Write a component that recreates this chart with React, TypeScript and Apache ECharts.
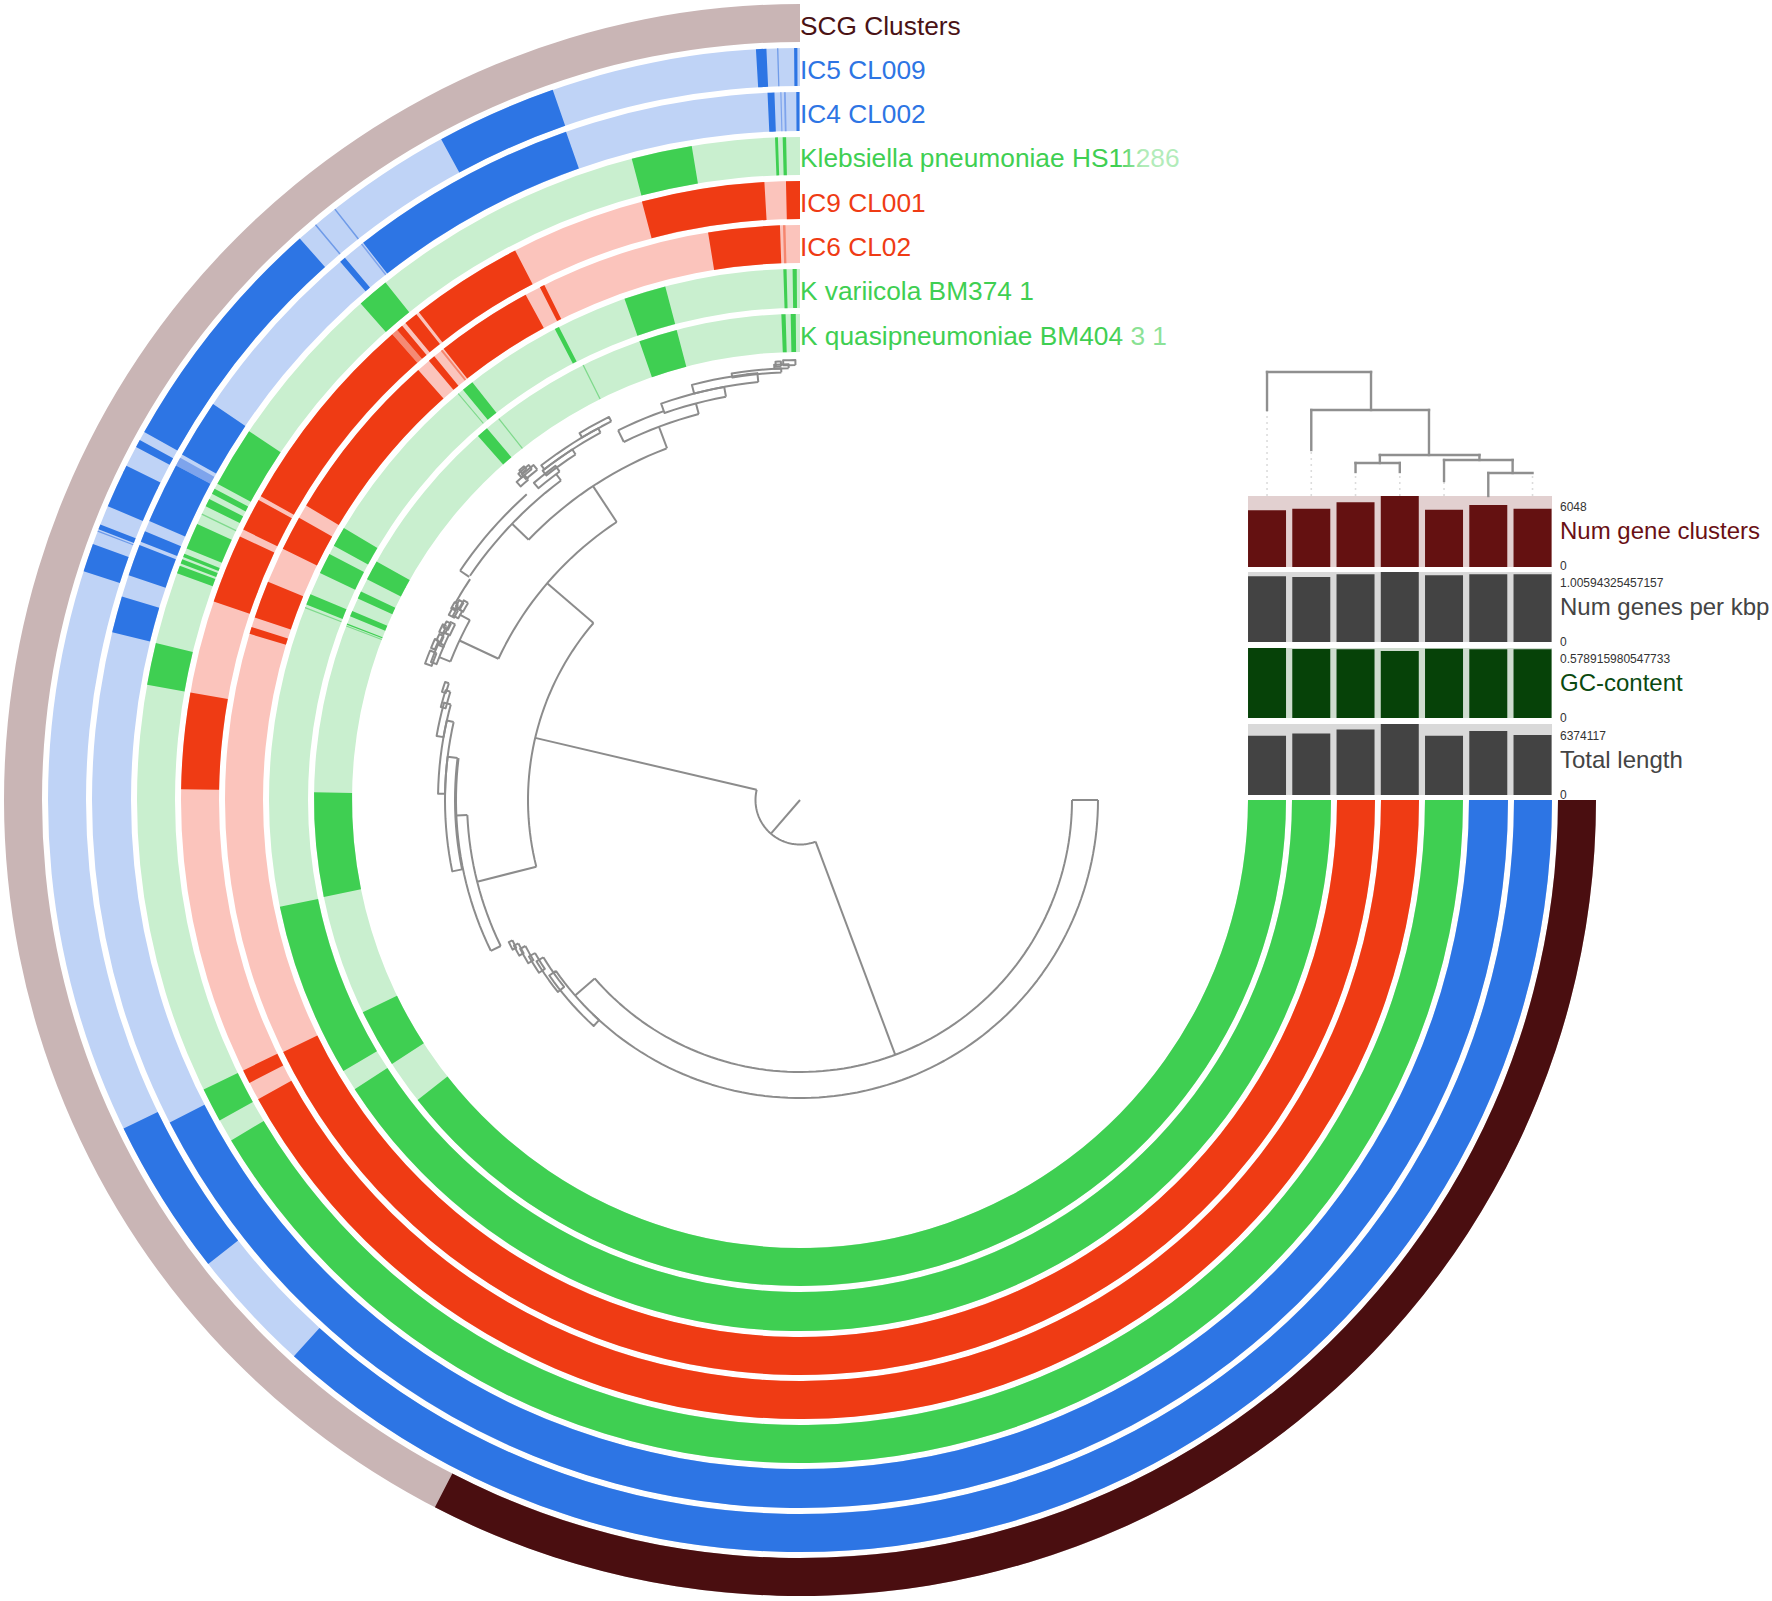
import React, { useEffect, useRef } from "react";
import * as echarts from "echarts";

// ---------- DATA ----------
// Rings are listed outer to inner. Angles in degrees, counter-clockwise from the top.
const ringNames = ["SCG Clusters", "IC5 CL009", "IC4 CL002", "Klebsiella pneumoniae HS11286", "IC9 CL001", "IC6 CL02", "K variicola BM374 1", "K quasipneumoniae BM404 3 1"];
const scgDark = [[152.7, 270]];
const scgFaint: number[][] = [];
const ic5Dark = [[0.2, 0.45], [2.56, 3.36], [19.2, 28.5], [41.7, 60.7], [61.4, 62.0], [63.6, 67.0], [68.5, 68.9], [70.1, 72.3], [115.9, 128.1], [137.7, 270]];
const ic5Faint = [[1.65, 1.75], [38.15, 38.27], [40.05, 40.17], [64.1, 64.2], [69.0, 69.1]];
const ic4Dark = [[0.05, 0.3], [2.07, 2.63], [19.3, 38.1], [40.0, 40.5], [56.0, 60.8], [61.8, 66.8], [67.7, 68.6], [68.9, 71.5], [73.3, 76.3], [117.1, 270]];
const ic4Faint = [[1.15, 1.3], [1.5, 1.6], [38.2, 38.32], [61.1, 61.8]];
const klebDark = [[1.2, 1.5], [1.91, 2.16], [9.4, 14.7], [38.7, 41.5], [56.2, 61.5], [62.0, 62.5], [63.0, 63.7], [65.4, 67.7], [68.2, 68.5], [68.7, 69.1], [69.3, 70.0], [76.3, 80.0], [115.9, 118.9], [120.9, 270]];
const klebFaint = [[64.4, 64.52]];
const ic9Dark = [[0, 1.3], [3.3, 14.8], [27.4, 38.0], [38.3, 39.6], [40.0, 40.6], [41.2, 60.6], [61.0, 64.1], [64.8, 71.3], [80.0, 89.0], [115.9, 117.2], [118.9, 270]];
const ic9Faint = [[40.6, 41.2], [62.5, 62.62], [69.0, 69.12]];
const ic6Dark = [[2.0, 9.2], [26.4, 26.9], [28.5, 38.3], [39.5, 40.2], [41.6, 59.2], [60.6, 64.1], [67.7, 71.5], [72.5, 73.2], [116.0, 270]];
const ic6Faint = [[1.45, 1.7], [38.45, 38.65], [117.0, 117.1]];
const kvarDark = [[0.35, 0.8], [1.45, 1.8], [14.7, 19.3], [27.0, 27.5], [38.1, 39.4], [59.2, 61.4], [62.4, 64.7], [67.2, 68.4], [101.6, 120.7], [123.0, 270]];
const kvarFaint = [[40.0, 40.12], [68.7, 68.82]];
const kquasDark = [[0.5, 1.1], [1.7, 2.2], [14.7, 19.3], [40.1, 41.5], [60.6, 63.0], [64.6, 65.5], [67.1, 67.8], [68.7, 68.85], [89.1, 101.5], [115.9, 122.9], [128.1, 270]];
const kquasFaint = [[26.42, 26.58], [38.22, 38.38], [61.6, 61.72], [68.95, 69.07]];
const ringDark = [scgDark, ic5Dark, ic4Dark, klebDark, ic9Dark, ic6Dark, kvarDark, kquasDark];
const ringFaint = [scgFaint, ic5Faint, ic4Faint, klebFaint, ic9Faint, ic6Faint, kvarFaint, kquasFaint];

// Bars, in the order of the genomes at the right end of the rings
const genomePositions = [0, 1, 2, 3, 4, 5, 6];
const numGeneClusters = [4827, 4969, 5508, 6048, 4884, 5281, 4969];
const numGenesPerKbp = [0.944, 0.935, 0.973, 1.00594325457157, 0.958, 0.973, 0.973];
const gcContent = [0.578915980547733, 0.5707, 0.568, 0.5543, 0.5734, 0.568, 0.568];
const totalLength = [5320000, 5530000, 5890000, 6374117, 5320000, 5740000, 5380000];
const barTitles = ["Num gene clusters", "Num genes per kbp", "GC-content", "Total length"];
const barMaxLabels = ["6048", "1.00594325457157", "0.578915980547733", "6374117"];

// Layer dendrogram: x1, h1, x2, h2 (tip index, height)
const dendroSolid = [
  [0, 86, 0, 124], [0, 124, 2.35, 124], [2.35, 124, 2.35, 86],
  [1, 46, 1, 86], [1, 86, 3.66, 86], [3.66, 86, 3.66, 41],
  [2.55, 41, 4.8, 41], [2.55, 41, 2.55, 33], [2, 33, 3, 33], [2, 33, 2, 24], [3, 33, 3, 24],
  [4.8, 41, 4.8, 36], [4, 36, 5.55, 36], [4, 36, 4, 15], [5.55, 36, 5.55, 23], [5, 23, 6, 23], [5, 23, 5, 0],
];
const dendroDotted = [[0, 0, 0, 86], [1, 0, 1, 46], [2, 0, 2, 24], [3, 0, 3, 24], [4, 0, 4, 15], [6, 0, 6, 23]];

// Item tree, polar: arcs [radius, a1, a2], radials [angle, r1, r2], boxes [r1, r2, a1, a2]
const treeArcs = [
  [44.5, 76.8, 200.5], [272, 131, 270], [272, 49.4, 104.2], [333, 33.4, 64.9], [333, 92.6, 116], [344, 83, 116],
  [298, 136, 270], [376, 61.4, 68.4], [376, 20.8, 46.2], [399, 36.8, 55.8], [410, 41.8, 56], [399, 14.7, 26.2],
  [412, 19.3, 26.2], [397, 56.2, 60.3],
];
const treeRadials = [
  [139.2, 0, 44.5], [76.8, 44.5, 272], [200.5, 44.5, 272], [131, 272, 298], [270, 272, 298], [49.4, 272, 333],
  [104.2, 272, 333], [33.4, 333, 376], [64.9, 333, 376], [92.6, 333, 344], [116, 333, 344], [20.7, 376, 399],
  [46.2, 376, 399], [36.8, 399, 407], [56, 399, 410], [61.4, 376, 388], [68.4, 376, 388], [26.2, 399, 412], [14.7, 399, 410],
];
const treeBoxes = [
  [298, 306, 125, 137.6], [301, 309, 121.5, 128.4], [306, 313, 120, 123.5], [311, 317, 118, 121], [316, 321, 117, 119], [320, 324, 116, 117.5],
  [345, 355, 83, 101.6], [355, 362, 77.3, 89], [362, 369, 74.7, 80], [366, 371, 72.8, 75.5], [370, 374, 71.6, 73.2],
  [407, 414, 36.2, 40], [412, 418, 33, 38], [418, 423, 28.5, 37.7], [423, 428, 26.5, 31],
  [410, 420, 10.4, 19.3], [420, 429, 5.7, 14.6], [428, 432, 2.5, 9.1],
  [388, 394, 66.5, 69.5], [392, 399, 68, 70], [388, 393, 64.8, 66.8], [392, 397, 65.3, 66.3], [387, 392, 63, 64.8], [391, 396, 63.2, 64.2],
  [395, 399, 66.2, 67.6], [394, 398, 63.8, 65], [387, 393, 60.8, 62], [391, 397, 61, 62.2], [386, 391, 59.3, 60.8], [390, 395, 59.6, 60.6], [394, 398, 60.2, 61.2],
  [422, 428, 38.5, 40.5], [426, 431, 39, 40.8], [420, 426, 40.3, 41.7], [429, 433, 39.6, 40.4],
  [432, 436, 1.5, 3.4], [435, 440, 0.6, 2.2], [434, 439, 2.5, 3.2],
];

// ---------- STYLE / LAYOUT ----------
const ringOuter = [796, 752, 708, 663, 619, 575, 531, 486];
const ringInner = [758, 714, 669, 625, 581, 537, 492, 448];
const darkColors = ["#4a0e10", "#2d75e4", "#2d75e4", "#3fcf52", "#ef3b14", "#ef3b14", "#3fcf52", "#3fcf52"];
const lightColors = ["#c9b5b5", "#bfd3f6", "#bfd3f6", "#c9efcf", "#fbc4bc", "#fbc4bc", "#c9efcf", "#c9efcf"];
const faintColors = ["#8a6a6a", "#6f9be8", "#7ea4ec", "#7fd98c", "#f58a74", "#f5866f", "#7fd98c", "#7fd98c"];
const labelColors = ["#4a1215", "#2d75e4", "#2d75e4", "#3fcf52", "#ef3b14", "#ef3b14", "#3fcf52", "#3fcf52"];
const labelY = [26, 70, 114, 158, 203, 247, 291, 336];
const barRows = [
  { top: 496, height: 71, color: "#641111", bg: "#e2d0d0", title: "#6a1015", max: 6048, data: numGeneClusters, titleY: 530, maxY: 507, zeroY: 566 },
  { top: 572, height: 70, color: "#434343", bg: "#d9d9d9", title: "#444444", max: 1.00594325457157, data: numGenesPerKbp, titleY: 606, maxY: 583, zeroY: 642 },
  { top: 648, height: 70, color: "#064208", bg: "#cfdccf", title: "#0a4a10", max: 0.578915980547733, data: gcContent, titleY: 682, maxY: 659, zeroY: 718 },
  { top: 724, height: 71, color: "#434343", bg: "#d9d9d9", title: "#444444", max: 6374117, data: totalLength, titleY: 759, maxY: 736, zeroY: 795 },
];
const TREE = "#8c8c8c";

const ringBase = ringOuter.map((_, i) => [i, 0, 270, 0]);
const ringMarks: number[][] = [];
ringFaint.forEach((list, i) => list.forEach((s) => ringMarks.push([i, s[0], s[1], 2])));
ringDark.forEach((list, i) => list.forEach((s) => ringMarks.push([i, s[0], s[1], 1])));

function arcPoints(api: any, r: number, a1: number, a2: number) {
  const pts: number[][] = [];
  const n = Math.max(2, Math.ceil(Math.abs(a2 - a1) / 1.5));
  for (let k = 0; k <= n; k++) pts.push(api.coord([r, a1 + ((a2 - a1) * k) / n]));
  return pts;
}

function renderRing(params: any, api: any) {
  const i = api.value(0), a1 = api.value(1), a2 = api.value(2), kind = api.value(3);
  const cx = params.coordSys.cx, cy = params.coordSys.cy;
  const p1 = api.coord([ringOuter[i], a1]);
  const p2 = api.coord([ringOuter[i], a2]);
  const p3 = api.coord([ringInner[i], a1]);
  const r = Math.hypot(p1[0] - cx, p1[1] - cy);
  const r0 = Math.hypot(p3[0] - cx, p3[1] - cy);
  const start = Math.atan2(p2[1] - cy, p2[0] - cx);
  let end = Math.atan2(p1[1] - cy, p1[0] - cx);
  if (end <= start) end += Math.PI * 2;
  const fill = kind === 0 ? lightColors[i] : kind === 1 ? darkColors[i] : faintColors[i];
  return { type: "sector", shape: { cx, cy, r, r0, startAngle: start, endAngle: end, clockwise: true }, style: { fill, stroke: null } };
}

const lineStyle = { stroke: TREE, lineWidth: 2, fill: null, lineJoin: "round" };

function renderArc(_: any, api: any) {
  return { type: "polyline", shape: { points: arcPoints(api, api.value(0), api.value(1), api.value(2)) }, style: lineStyle };
}
function renderRadial(_: any, api: any) {
  const a = api.value(0);
  return { type: "polyline", shape: { points: [api.coord([api.value(1), a]), api.coord([api.value(2), a])] }, style: lineStyle };
}
function renderBox(_: any, api: any) {
  const r1 = api.value(0), r2 = api.value(1), a1 = api.value(2), a2 = api.value(3);
  const pts = [...arcPoints(api, r1, a1, a2), ...arcPoints(api, r2, a2, a1)];
  pts.push(pts[0]);
  return { type: "polyline", shape: { points: pts }, style: lineStyle };
}
function renderDendro(dotted: boolean) {
  return (_: any, api: any) => {
    const a = api.coord([api.value(0), api.value(1)]);
    const b = api.coord([api.value(2), api.value(3)]);
    return {
      type: "line",
      shape: { x1: a[0], y1: a[1], x2: b[0], y2: b[1] },
      style: dotted ? { stroke: "#dcdcdc", lineWidth: 1.6, lineDash: [2, 4] } : { stroke: "#8f8f8f", lineWidth: 2.4, lineCap: "square" },
    };
  };
}

function text(x: number, y: number, t: string, size: number, fill: any) {
  return { type: "text", x, y, z: 10, style: { text: t, fontFamily: "Liberation Sans", fontSize: size, fill, verticalAlign: "middle" } };
}
function fadeRect(x: number, y: number, w: number, h: number, alpha: number) {
  return {
    type: "rect", x, y, z: 11, shape: { x: 0, y: 0, width: w, height: h },
    style: { fill: new echarts.graphic.LinearGradient(0, 0, 1, 0, [{ offset: 0, color: "rgba(255,255,255,0)" }, { offset: 0.35, color: `rgba(255,255,255,${alpha})` }, { offset: 1, color: `rgba(255,255,255,${alpha})` }]) },
  };
}

// Bars: the grid spans exactly the coloured strip; each tip is 44.23 px from the next.
const BAR_LEFT = 1248;
const BAR_WIDTH = 304;
const X_MIN = -0.43;
const X_MAX = 6.44;

export default function App() {
  const ref = useRef<HTMLDivElement>(null);
  useEffect(() => {
    if (!ref.current) return;
    const chart = echarts.init(ref.current, undefined, { renderer: "svg" });
    const grids: any[] = barRows.map((b) => ({ show: true, backgroundColor: b.bg, borderWidth: 0, left: BAR_LEFT, width: BAR_WIDTH, top: b.top, height: b.height }));
    grids.push({ left: BAR_LEFT, width: BAR_WIDTH, top: 372, height: 124 });
    const xAxes: any[] = [...barRows, null].map((_, i) => ({ type: "value", gridIndex: i, min: X_MIN, max: X_MAX, show: false }));
    const yAxes: any[] = barRows.map((b, i) => ({ type: "value", gridIndex: i, min: 0, max: b.max, show: false }));
    yAxes.push({ type: "value", gridIndex: 4, min: 0, max: 124, show: false });

    const labels: any[] = ringNames.map((n, i) => text(800, labelY[i], n, 26.3, labelColors[i]));
    labels.push(fadeRect(1118, 144, 70, 28, 0.6));
    labels.push(fadeRect(1114, 322, 62, 28, 0.4));
    barRows.forEach((b, i) => {
      labels.push(text(1560, b.titleY, barTitles[i], 24, b.title));
      labels.push(text(1560, b.maxY, barMaxLabels[i], 12, "#333333"));
      labels.push(text(1560, b.zeroY, "0", 12, "#333333"));
    });

    chart.setOption({
      animation: false,
      backgroundColor: "#ffffff",
      polar: { center: [800, 800], radius: [0, 796] },
      angleAxis: { type: "value", min: 0, max: 360, startAngle: 90, clockwise: false, show: false },
      radiusAxis: { type: "value", min: 0, max: 796, show: false },
      grid: grids,
      xAxis: xAxes,
      yAxis: yAxes,
      series: [
        { type: "custom", coordinateSystem: "polar", data: ringBase, renderItem: renderRing, clip: false, silent: true, z: 1 },
        { type: "custom", coordinateSystem: "polar", data: ringMarks, renderItem: renderRing, clip: false, silent: true, z: 2 },
        { type: "custom", coordinateSystem: "polar", data: treeArcs, renderItem: renderArc, clip: false, silent: true, z: 3 },
        { type: "custom", coordinateSystem: "polar", data: treeRadials, renderItem: renderRadial, clip: false, silent: true, z: 3 },
        { type: "custom", coordinateSystem: "polar", data: treeBoxes, renderItem: renderBox, clip: false, silent: true, z: 3 },
        ...barRows.map((b, i) => ({
          type: "bar", xAxisIndex: i, yAxisIndex: i, data: b.data.map((v, k) => [genomePositions[k], v]), barWidth: 38, silent: true, z: 4,
          itemStyle: { color: b.color },
        })),
        { type: "custom", xAxisIndex: 4, yAxisIndex: 4, data: dendroDotted, renderItem: renderDendro(true), clip: false, silent: true, z: 4 },
        { type: "custom", xAxisIndex: 4, yAxisIndex: 4, data: dendroSolid, renderItem: renderDendro(false), clip: false, silent: true, z: 5 },
      ],
      graphic: { elements: labels },
    });
    return () => chart.dispose();
  }, []);
  return <div ref={ref} style={{ position: "absolute", left: 0, top: 0, width: 1772, height: 1601 }} />;
}
